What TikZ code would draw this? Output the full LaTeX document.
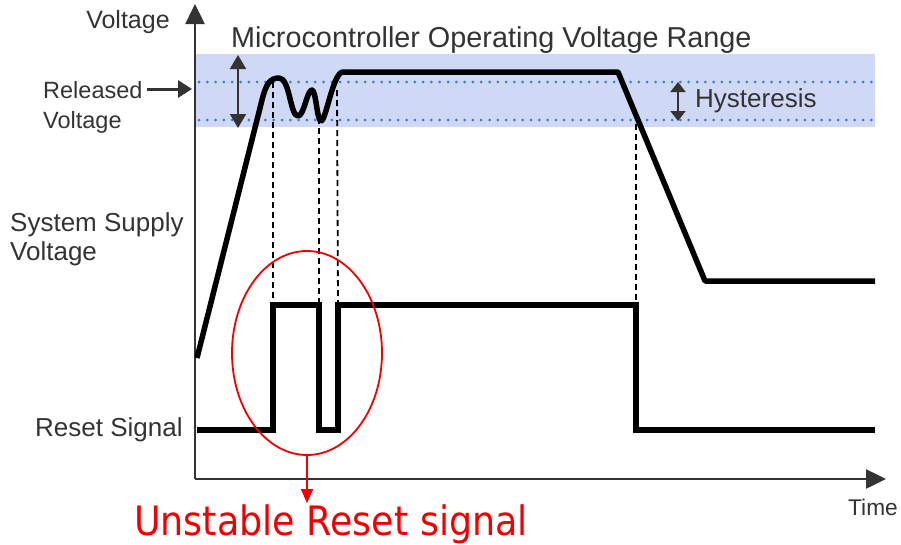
\documentclass[tikz,border=0pt]{standalone}
\usepackage{fontspec}
\setmainfont{Liberation Sans}
\newfontfamily\redfont[FakeStretch=0.9]{DejaVu Sans}
\usetikzlibrary{arrows.meta,shapes.geometric}
\definecolor{txtgray}{HTML}{333333}
\definecolor{bandblue}{HTML}{CFD8F4}
\definecolor{dotblue}{HTML}{3C7BDA}
\definecolor{redc}{HTML}{F00000}
\begin{document}
\begin{tikzpicture}[x=1pt,y=-1pt,
  lbl/.style={text=txtgray,font=\fontsize{26}{29}\selectfont,inner sep=0pt,anchor=west},
  smalllbl/.style={lbl,font=\fontsize{23.5}{26}\selectfont},
  sig/.style={line width=5.5pt,line join=round,line cap=butt,black},
  axisline/.style={line width=2.5pt,txtgray,-{Triangle[length=20pt,width=19pt]}},
  guide/.style={line width=1.8pt,black,dash pattern=on 6pt off 4pt},
  dotline/.style={dotblue,line width=3pt,line cap=round,dash pattern=on 0pt off 8.3pt},
  dblarrow/.style={line width=2pt,txtgray,{Triangle[length=14pt,width=16pt]}-{Triangle[length=14pt,width=16pt]}},
  hysarrow/.style={line width=2pt,txtgray,{Triangle[length=10pt,width=15pt]}-{Triangle[length=10pt,width=15pt]}}]
\useasboundingbox (0,0) rectangle (901,544);
% band
\fill[bandblue] (195,54) rectangle (875,127);
\draw[dotline] (199,82) -- (873,82);
\draw[dotline] (199,120) -- (873,120);
% axes
\coordinate (org) at (195,479);
\coordinate (ytop) at (195,4);
\coordinate (xend) at (886,479);
\draw[axisline] (org) -- (ytop);
\draw[axisline] (org) -- (xend);
% labels
\node[lbl,font=\fontsize{25}{28}\selectfont,anchor=center] (vlab) at (128,22) {Voltage};
\node[lbl,font=\fontsize{22.7}{26}\selectfont,anchor=east] (tlab) at (898,507) {Time};
\node[lbl,font=\fontsize{28.8}{32}\selectfont] (mcu) at (231,40) {Microcontroller Operating Voltage Range};
\node[smalllbl] (rel1) at (43,90) {Released};
\node[smalllbl] (rel2) at (43,122) {Voltage};
\node[lbl] (sys1) at (10,225) {System Supply};
\node[lbl] (sys2) at (10,254) {Voltage};
\node[lbl] (rst) at (35,430) {Reset Signal};
\node[lbl] (hys) at (695,101) {Hysteresis};
% released arrow
\coordinate (relstart) at (147,89);
\coordinate (relend) at (192,89);
\draw[line width=3pt,txtgray,-{Triangle[length=14pt,width=17pt]}] (relstart) -- (relend);
% double arrows
\coordinate (da1) at (238,55);
\coordinate (da2) at (238,128);
\draw[dblarrow] (da1) -- (da2);
\coordinate (ha1) at (678,82);
\coordinate (ha2) at (678,121);
\draw[hysarrow] (ha1) -- (ha2);
% supply curve
\coordinate (s0) at (197,358);
\coordinate (s1) at (262,100);
\coordinate (s2) at (279,78);
\coordinate (s3) at (298,116);
\coordinate (s4) at (312,90);
\coordinate (s5) at (321,121);
\coordinate (s6) at (343,72);
\coordinate (s7) at (618,72);
\coordinate (s8) at (705,281);
\coordinate (s9) at (875,281);
\draw[sig] (s0) -- (s1) .. controls (266,84) and (270,78) .. (s2)
  .. controls (290,78) and (290,116) .. (s3)
  .. controls (304,116) and (307,90) .. (s4)
  .. controls (316,90) and (317,121) .. (s5)
  .. controls (326,121) and (333,72) .. (s6) -- (s7) -- (s8) -- (s9);
% reset signal
\coordinate (r0) at (197,430);
\coordinate (r1) at (273,430);
\coordinate (r2) at (273,305);
\coordinate (r3) at (319,305);
\coordinate (r4) at (319,430);
\coordinate (r5) at (338,430);
\coordinate (r6) at (338,305);
\coordinate (r7) at (636,305);
\coordinate (r8) at (636,430);
\coordinate (r9) at (875,430);
\draw[sig,line join=miter] (r0) -- (r1) -- (r2) -- (r3) -- (r4) -- (r5) -- (r6) -- (r7) -- (r8) -- (r9);
% guides
\coordinate (g1) at (273,82);
\coordinate (g2) at (319,118);
\coordinate (g3) at (337,90);
\coordinate (g4) at (636,114);
\draw[guide] (g1) -- (r2);
\draw[guide] (g2) -- (r3);
\draw[guide] (g3) -- (r6);
\draw[guide] (g4) -- (r7);
% unstable ellipse
\node[ellipse,draw=redc,line width=1.8pt,minimum width=150pt,minimum height=204pt,inner sep=0pt] (unst) at (307,353) {};
\node[text=redc,font=\redfont\fontsize{40.5}{44}\selectfont,inner sep=0pt,anchor=base] (ulab) at (331,535) {Unstable Reset signal};
\coordinate (uarr) at (unst.south |- 0,503);
\draw[redc,line width=2pt,-{Triangle[length=14pt,width=12pt]}] (unst.south) -- (uarr);
\end{tikzpicture}
\end{document}
